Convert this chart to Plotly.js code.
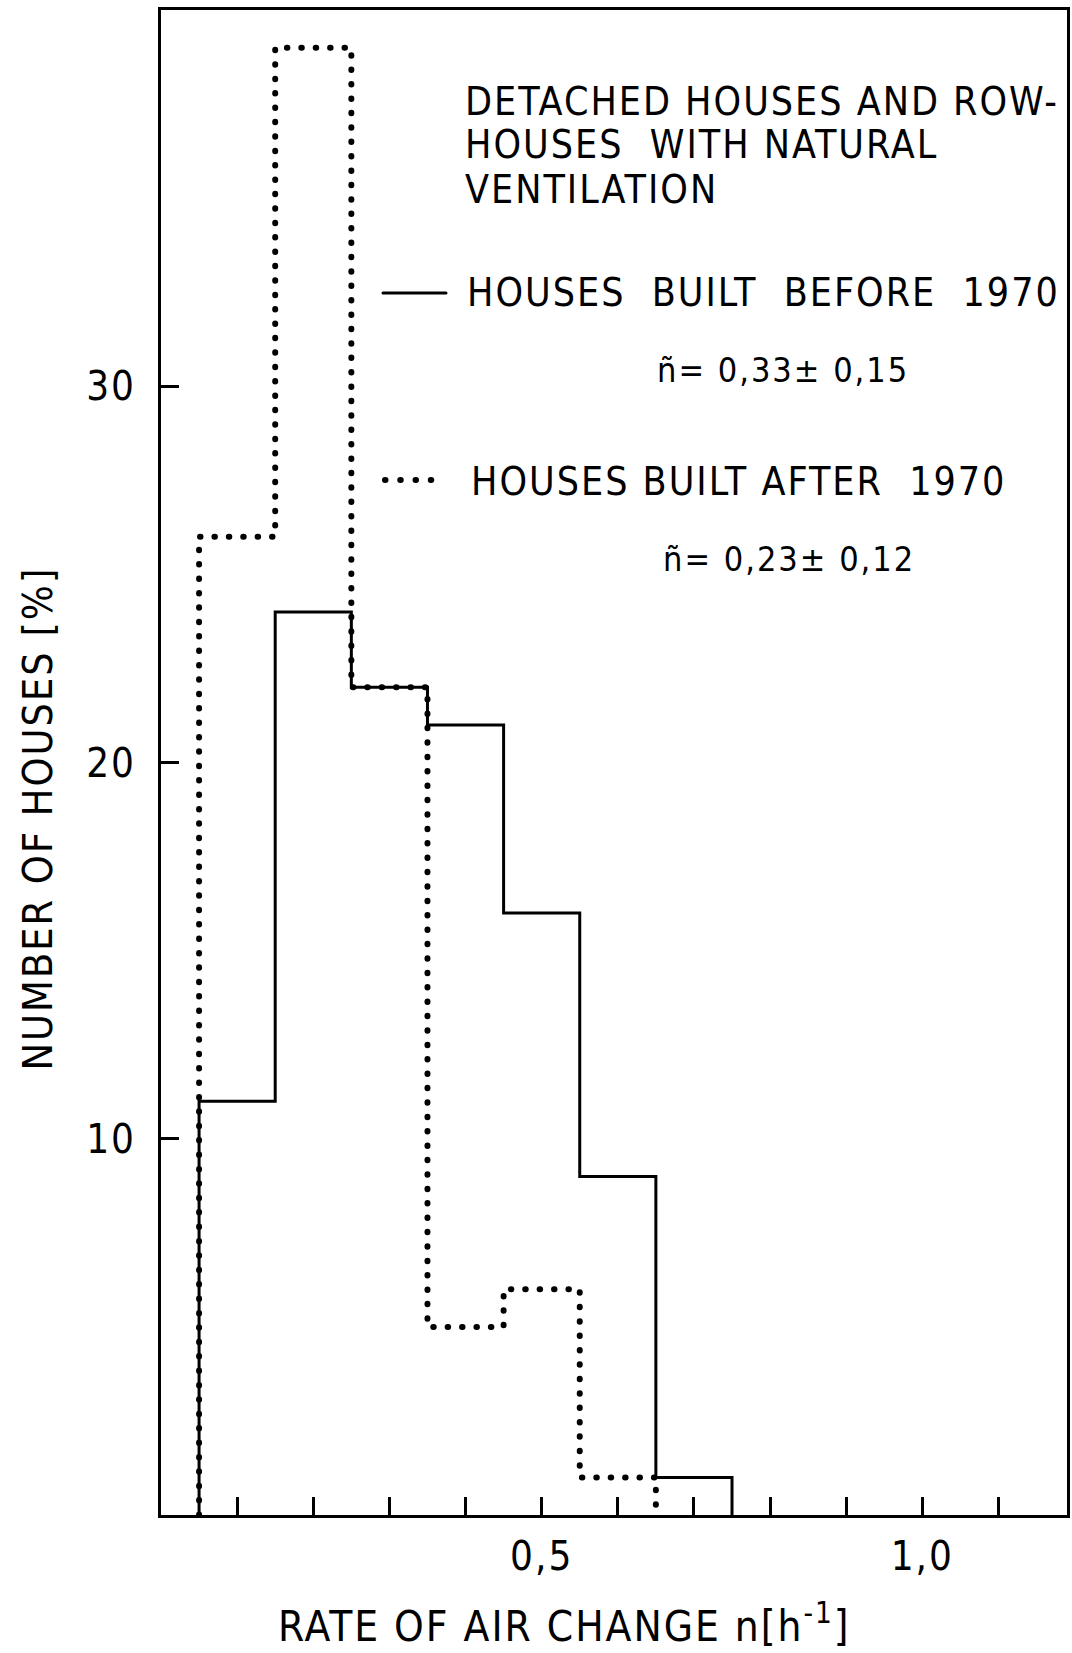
<!DOCTYPE html>
<html>
<head>
<meta charset="utf-8">
<script src="https://cdn.plot.ly/plotly-3.0.1.min.js"></script>
<style>
html, body { margin: 0; padding: 0; background: #fff; }
#chart { width: 1072px; height: 1653px; }
text { letter-spacing: 2px; }
#chart .scatterlayer .js-line, #chart .shapelayer path { stroke-linecap: round; }
</style>
</head>
<body>
<div id="chart"></div>
<script>
// ---- data ----
const binEdgesBefore = [0.05, 0.15, 0.25, 0.35, 0.45, 0.55, 0.65, 0.75];
const housesBefore1970 = [11, 24, 22, 21, 16, 9, 1];           // % of houses
const binEdgesAfter = [0.05, 0.15, 0.25, 0.35, 0.45, 0.55, 0.65];
const housesAfter1970 = [26, 39, 22, 5, 6, 1];                 // % of houses

const xTickVals = [0.5, 1.0];
const xTickText = ["0,5", "1,0"];
const xMinorStep = 0.1;
const yTickVals = [10, 20, 30];
const yTickText = ["10", "20", "30"];

const seriesNames = ["HOUSES BUILT BEFORE 1970", "HOUSES BUILT AFTER 1970"];

// step outline of a histogram from its bin edges and values
function stepX(edges) { return [edges[0]].concat(edges); }
function stepY(values) { return [0].concat(values, [0]); }

const FONT = "'Liberation Sans Narrow', 'DejaVu Sans Condensed', 'Arial Narrow', sans-serif";

const traces = [
  {
    type: "scatter", mode: "lines", name: seriesNames[0],
    x: stepX(binEdgesBefore), y: stepY(housesBefore1970),
    line: { shape: "hv", color: "#000", width: 3 },
    showlegend: false, hoverinfo: "skip"
  },
  {
    type: "scatter", mode: "lines", name: seriesNames[1],
    x: stepX(binEdgesAfter), y: stepY(housesAfter1970),
    line: { shape: "hv", color: "#000", width: 6, dash: "0.5px,13.9px" },
    showlegend: false, hoverinfo: "skip"
  }
];

const L = 161, T = 10, W = 1072, H = 1653, R = 5, B = 138;
const pw = W - L - R, ph = H - T - B;
const px = v => (v - L) / pw;
const py = v => (H - B - v) / ph;

const ann = (text, x, y, opts) => Object.assign({
  text: text, xref: "paper", yref: "paper", x: x, y: y,
  xanchor: "left", yanchor: "middle", showarrow: false,
  font: { family: FONT, size: 39, color: "#000" }
}, opts || {});

const small = { font: { family: FONT, size: 34, color: "#000" } };

const layout = {
  width: W, height: H,
  margin: { l: L, r: R, t: T, b: B },
  paper_bgcolor: "#fff", plot_bgcolor: "#fff",
  showlegend: false,
  xaxis: {
    range: [0, 1.19],
    showline: true, linecolor: "#000", linewidth: 3, mirror: true,
    ticks: "inside", ticklen: 18, tickwidth: 3, tickcolor: "#000",
    tickmode: "array", tickvals: xTickVals, ticktext: xTickText,
    minor: { ticks: "inside", ticklen: 18, tickwidth: 3, tickcolor: "#000",
             tick0: 0, dtick: xMinorStep, showgrid: false },
    tickfont: { family: FONT, size: 40, color: "#000" },
    ticklabelstandoff: 4,
    showgrid: false, zeroline: false, fixedrange: true
  },
  yaxis: {
    range: [0, 40],
    showline: true, linecolor: "#000", linewidth: 3, mirror: true,
    ticks: "inside", ticklen: 18, tickwidth: 3, tickcolor: "#000",
    tickmode: "array", tickvals: yTickVals, ticktext: yTickText,
    tickfont: { family: FONT, size: 40, color: "#000" },
    ticklabelstandoff: 14,
    showgrid: false, zeroline: false, fixedrange: true
  },
  annotations: [
    ann("DETACHED HOUSES AND ROW-", px(463), py(101)),
    ann("HOUSES\u00a0 WITH NATURAL", px(463), py(144)),
    ann("VENTILATION", px(463), py(189)),
    ann("HOUSES\u00a0 BUILT\u00a0 BEFORE\u00a0 1970", px(465), py(292.5)),
    ann("ñ= 0,33± 0,15", px(655), py(370), small),
    ann("HOUSES BUILT AFTER\u00a0 1970", px(469), py(481.5)),
    ann("ñ= 0,23± 0,12", px(661), py(558.5), small),
    ann("NUMBER OF HOUSES [%]", px(37.5), py(819),
        { xanchor: "center", textangle: -90, font: { family: FONT, size: 41, color: "#000" } }),
    ann("RATE OF AIR CHANGE n[h<sup>-1</sup>]", px(564), py(1623),
        { xanchor: "center", font: { family: FONT, size: 42, color: "#000" } })
  ],
  shapes: [
    { type: "line", xref: "paper", yref: "paper",
      x0: px(383), x1: px(446), y0: py(293), y1: py(293),
      line: { color: "#000", width: 3 } },
    { type: "line", xref: "paper", yref: "paper",
      x0: px(385), x1: px(446), y0: py(480), y1: py(480),
      line: { color: "#000", width: 6, dash: "0.5px,14.75px" } }
  ]
};

Plotly.newPlot("chart", traces, layout, { staticPlot: true, displayModeBar: false });
</script>
</body>
</html>
